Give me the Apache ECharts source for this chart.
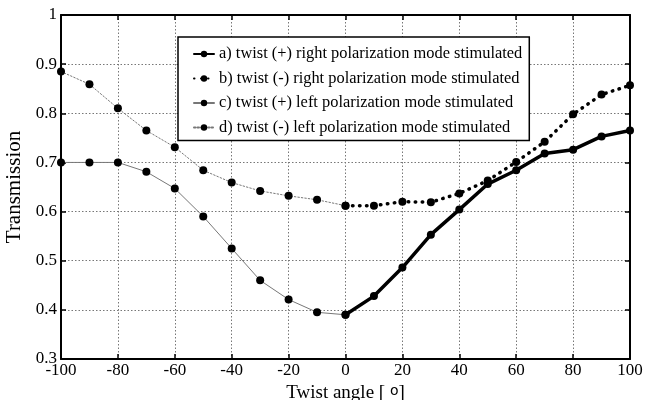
<!DOCTYPE html>
<html>
<head>
<meta charset="utf-8">
<script src="https://cdn.jsdelivr.net/npm/echarts@6/dist/echarts.min.js"></script>
<style>
  html, body { margin: 0; padding: 0; background: #fff; }
  #chart { width: 645px; height: 400px; }
</style>
</head>
<body>
<div id="chart"></div>
<script>
// twist angles
const anglesNeg = [-100, -90, -80, -70, -60, -50, -40, -30, -20, -10, 0];
const anglesPos = [0, 10, 20, 30, 40, 50, 60, 70, 80, 90, 100];

// transmission values
const twistPlusRight  = [0.390, 0.428, 0.486, 0.553, 0.604, 0.656, 0.684, 0.718, 0.726, 0.753, 0.765];
const twistMinusRight = [0.612, 0.612, 0.620, 0.619, 0.637, 0.663, 0.701, 0.742, 0.798, 0.838, 0.857];
const twistPlusLeft   = [0.700, 0.700, 0.700, 0.681, 0.647, 0.590, 0.525, 0.460, 0.421, 0.395, 0.390];
const twistMinusLeft  = [0.885, 0.859, 0.810, 0.765, 0.731, 0.684, 0.659, 0.642, 0.632, 0.624, 0.612];

const xTicks = [-100, -80, -60, -40, -20, 0, 20, 40, 60, 80, 100];
const yTicks = [0.3, 0.4, 0.5, 0.6, 0.7, 0.8, 0.9, 1];

const seriesNames = [
  'a) twist (+) right polarization mode stimulated',
  'b) twist (-) right polarization mode stimulated',
  'c) twist (+) left polarization mode stimulated',
  'd) twist (-) left polarization mode stimulated'
];

const serif = '"Liberation Serif", "DejaVu Serif", serif';

function pairs(xs, ys) {
  return xs.map((x, i) => [x, ys[i]]);
}

function makeSeries(name, xs, ys, color, width, type) {
  return {
    name: name,
    type: 'line',
    data: pairs(xs, ys),
    symbol: 'circle',
    symbolSize: 8,
    showSymbol: true,
    itemStyle: { color: '#000' },
    lineStyle: { color: color, width: width, type: type, cap: 'round' },
    emphasis: { disabled: true },
    z: 3
  };
}

const chart = echarts.init(document.getElementById('chart'));

// box edges on top and right, ticks only
const boxAxis = {
  axisLine: { show: true, onZero: false, lineStyle: { color: '#000', width: 2 } },
  axisTick: { show: true, inside: true, length: 5, lineStyle: { color: '#000', width: 1.5 } },
  axisLabel: { show: false },
  splitLine: { show: false }
};

chart.setOption({
  backgroundColor: '#fff',
  animation: false,
  grid: { left: 61, right: 15, top: 15, bottom: 41, outerBoundsMode: 'none' },
  legend: {
    orient: 'vertical',
    left: 178,
    top: 37,
    itemWidth: 20,
    itemHeight: 8,
    itemGap: 8.5,
    padding: [9, 7, 5, 15],
    backgroundColor: '#fff',
    borderColor: '#000',
    borderWidth: 1.5,
    textStyle: { fontFamily: serif, fontSize: 16.4, color: '#000' },
    data: seriesNames
  },
  xAxis: [
    {
      type: 'value',
      min: -100,
      max: 100,
      interval: 20,
      name: 'Twist angle [ {d|o}]',
      nameLocation: 'middle',
      nameGap: 23,
      nameTextStyle: {
        fontFamily: serif, fontSize: 19, color: '#000',
        rich: { d: { fontFamily: 'DejaVu Sans', fontSize: 14, color: '#000', verticalAlign: 'top', padding: [0, 0, 4, 0] } }
      },
      axisLine: { onZero: false, lineStyle: { color: '#000', width: 2 } },
      axisTick: { inside: true, length: 5, lineStyle: { color: '#000', width: 1.5 } },
      axisLabel: {
        fontFamily: serif, fontSize: 17, color: '#000', margin: 3,
        formatter: v => xTicks.includes(v) ? String(v) : ''
      },
      splitLine: { show: true, lineStyle: { color: '#777', width: 1, type: [1.5, 2] } }
    },
    Object.assign({ type: 'value', position: 'top', min: -100, max: 100, interval: 20 }, boxAxis)
  ],
  yAxis: [
    {
      type: 'value',
      min: 0.3,
      max: 1,
      interval: 0.1,
      name: 'Transmission',
      nameLocation: 'middle',
      nameGap: 28,
      nameTextStyle: { fontFamily: serif, fontSize: 21, color: '#000' },
      axisLine: { show: true, onZero: false, lineStyle: { color: '#000', width: 2 } },
      axisTick: { show: true, inside: true, length: 5, lineStyle: { color: '#000', width: 1.5 } },
      axisLabel: {
        fontFamily: serif, fontSize: 17, color: '#000', margin: 4,
        formatter: v => {
          const r = Math.round(v * 10) / 10;
          return yTicks.includes(r) ? String(r) : '';
        }
      },
      splitLine: { show: true, lineStyle: { color: '#777', width: 1, type: [1.5, 2] } }
    },
    Object.assign({ type: 'value', position: 'right', min: 0.3, max: 1, interval: 0.1 }, boxAxis)
  ],
  series: [
    makeSeries(seriesNames[0], anglesPos, twistPlusRight, '#000', 3.5, 'solid'),
    makeSeries(seriesNames[1], anglesPos, twistMinusRight, '#000', 3.5, [0.5, 6.5]),
    makeSeries(seriesNames[2], anglesNeg, twistPlusLeft, '#777', 1, 'solid'),
    makeSeries(seriesNames[3], anglesNeg, twistMinusLeft, '#777', 1, [1.5, 2])
  ]
});
</script>
</body>
</html>
